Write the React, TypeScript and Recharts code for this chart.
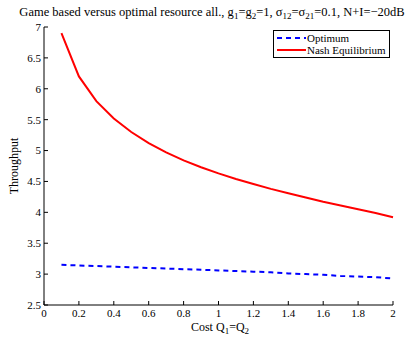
import { LineChart, Line, XAxis, YAxis, Legend, Customized } from "recharts";

const cost = [0.1, 0.2, 0.3, 0.4, 0.5, 0.6, 0.7, 0.8, 0.9, 1.0, 1.1, 1.2, 1.3, 1.4, 1.5, 1.6, 1.7, 1.8, 1.9, 2.0];
const optimum = [3.15, 3.14, 3.13, 3.12, 3.11, 3.1, 3.09, 3.08, 3.07, 3.06, 3.05, 3.04, 3.03, 3.01, 3.0, 2.99, 2.97, 2.96, 2.95, 2.93];
const nash = [6.9, 6.2, 5.8, 5.52, 5.3, 5.12, 4.97, 4.84, 4.73, 4.63, 4.54, 4.46, 4.38, 4.31, 4.24, 4.17, 4.11, 4.05, 3.99, 3.92];
const xTicks = [0, 0.2, 0.4, 0.6, 0.8, 1, 1.2, 1.4, 1.6, 1.8, 2];
const yTicks = [2.5, 3, 3.5, 4, 4.5, 5, 5.5, 6, 6.5, 7];

const data = cost.map((c, i) => ({ cost: c, optimum: optimum[i], nash: nash[i] }));

const font = "'Liberation Serif', 'Times New Roman', serif";
const tickStyle = { fill: "#000", fontSize: 11, fontFamily: font };

function Labels() {
  return (
    <g style={{ fontFamily: font }} fill="#000">
      <text x={212} y={16} fontSize={12.5} textAnchor="middle" style={{ fontFamily: font }}>
        Game based versus optimal resource all., g
        <tspan fontSize={9} dy={3}>1</tspan>
        <tspan dy={-3}>=g</tspan>
        <tspan fontSize={9} dy={3}>2</tspan>
        <tspan dy={-3}>=1, σ</tspan>
        <tspan fontSize={9} dy={3}>12</tspan>
        <tspan dy={-3}>=σ</tspan>
        <tspan fontSize={9} dy={3}>21</tspan>
        <tspan dy={-3}>=0.1, N+I=−20dB</tspan>
      </text>
      <text x={220} y={331} fontSize={12} textAnchor="middle" style={{ fontFamily: font }}>
        Cost Q
        <tspan fontSize={9} dy={3}>1</tspan>
        <tspan dy={-3}>=Q</tspan>
        <tspan fontSize={9} dy={3}>2</tspan>
      </text>
      <text x={18} y={166} fontSize={12} textAnchor="middle" transform="rotate(-90 18 166)" style={{ fontFamily: font }}>
        Throughput
      </text>
    </g>
  );
}

function LegendBox() {
  return (
    <div
      style={{
        border: "1px solid #000",
        background: "#fff",
        padding: "1px 3px 1px 2px",
        fontFamily: font,
        fontSize: 11,
        lineHeight: "12px",
      }}
    >
      <div style={{ display: "flex", alignItems: "center" }}>
        <svg width={31} height={8}>
          <line x1={1} y1={4} x2={30} y2={4} stroke="#0000ff" strokeWidth={2} strokeDasharray="5 4" />
        </svg>
        <span>Optimum</span>
      </div>
      <div style={{ display: "flex", alignItems: "center" }}>
        <svg width={31} height={8}>
          <line x1={1} y1={4} x2={30} y2={4} stroke="#ff0000" strokeWidth={2} />
        </svg>
        <span>Nash Equilibrium</span>
      </div>
    </div>
  );
}

export default function App() {
  return (
    <div style={{ position: "absolute", left: 0, top: 0, background: "#fff", fontFamily: font }}>
      <LineChart
        width={412}
        height={343}
        data={data}
        margin={{ top: 27, right: 19, bottom: 0, left: 0 }}
        style={{ fontFamily: font }}
      >
        <XAxis
          dataKey="cost"
          type="number"
          domain={[0, 2]}
          ticks={xTicks}
          height={38}
          tickSize={-4}
          tickMargin={8}
          axisLine={{ stroke: "#000" }}
          tickLine={{ stroke: "#000" }}
          tick={tickStyle}
        />
        <XAxis
          xAxisId="top"
          orientation="top"
          dataKey="cost"
          type="number"
          domain={[0, 2]}
          ticks={xTicks}
          height={0}
          tickSize={-4}
          tickFormatter={() => ""}
          axisLine={{ stroke: "#000" }}
          tickLine={{ stroke: "#000" }}
        />
        <YAxis
          type="number"
          domain={[2.5, 7]}
          ticks={yTicks}
          width={44}
          tickSize={-4}
          tickMargin={7}
          axisLine={{ stroke: "#000" }}
          tickLine={{ stroke: "#000" }}
          tick={tickStyle}
        />
        <YAxis
          yAxisId="right"
          orientation="right"
          type="number"
          domain={[2.5, 7]}
          ticks={yTicks}
          width={0}
          tickSize={-4}
          tickFormatter={() => ""}
          axisLine={{ stroke: "#000" }}
          tickLine={{ stroke: "#000" }}
        />
        <Line
          dataKey="optimum"
          name="Optimum"
          stroke="#0000ff"
          strokeWidth={2}
          strokeDasharray="5 4"
          dot={false}
          type="linear"
          isAnimationActive={false}
        />
        <Line
          dataKey="nash"
          name="Nash Equilibrium"
          stroke="#ff0000"
          strokeWidth={2}
          dot={false}
          type="linear"
          isAnimationActive={false}
        />
        <Legend
          layout="horizontal"
          verticalAlign="middle"
          align="center"
          content={<LegendBox />}
          wrapperStyle={{ position: "absolute", left: 273, top: 30, width: "auto" }}
        />
        <Customized component={<Labels />} />
      </LineChart>
    </div>
  );
}
